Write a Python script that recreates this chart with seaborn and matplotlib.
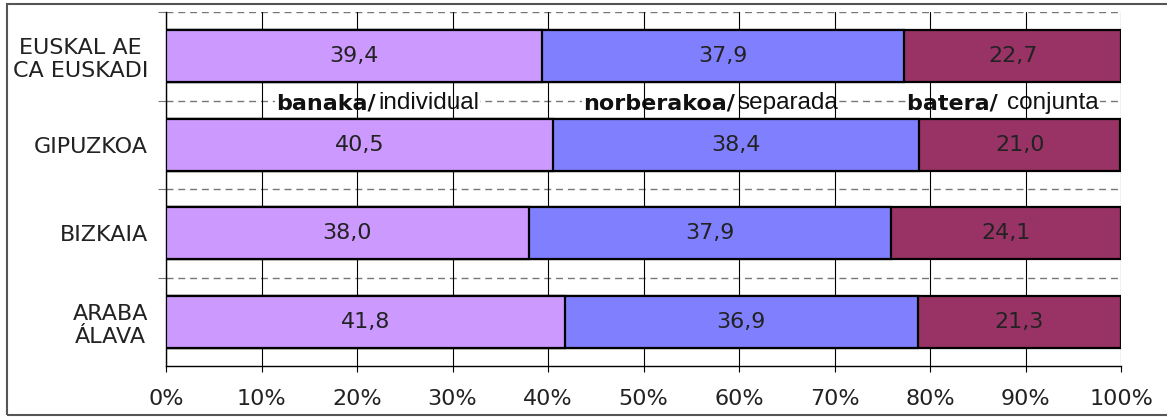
import matplotlib
matplotlib.use("Agg")
import matplotlib.pyplot as plt
import seaborn as sns
import pandas as pd
import numpy as np
from matplotlib.patches import Rectangle

# data
regions = ["EUSKAL AE\nCA EUSKADI", "GIPUZKOA", "BIZKAIA", "ARABA\nÁLAVA"]
banaka = [39.4, 40.5, 38.0, 41.8]
norberakoa = [37.9, 38.4, 37.9, 36.9]
batera = [22.7, 21.0, 24.1, 21.3]
series_bold = ["banaka/", "norberakoa/", "batera/ "]
series_plain = ["individual", "separada", "conjunta"]
series_colors = ["#CC99FF", "#8080FF", "#993366"]
legend_split = [22.0, 59.6, 87.9]

sns.set_theme(style="white")
plt.rcParams["font.family"] = ["DejaVu Sans"]

df = pd.DataFrame({"region": regions, "banaka": banaka,
                   "norberakoa": norberakoa, "batera": batera})
cols = ["banaka", "norberakoa", "batera"]
cum = df[cols].cumsum(axis=1)

fig = plt.figure(figsize=(11.67, 4.17), dpi=100)
ax = fig.add_axes([166 / 1167, 1 - 366 / 417, (1121 - 166) / 1167, (366 - 12) / 417])

# stacked bars: draw cumulative totals from the largest down
for col, color in zip(cols[::-1], series_colors[::-1]):
    sns.barplot(x=cum[col], y=df["region"], orient="h", color=color,
                edgecolor="black", linewidth=1.6, width=0.59,
                saturation=1, ax=ax, zorder=3)

# value labels
for i in range(len(regions)):
    left = 0
    for col in cols:
        v = df[col][i]
        ax.text(left + v / 2, i, f"{v:.1f}".replace(".", ","), ha="center",
                va="center", fontsize=16, color="#222222", zorder=4)
        left += v

ax.set_xlim(0, 100)
ax.set_ylim(3.5, -0.5)
ax.set_xticks(np.arange(0, 101, 10))
ax.set_xticklabels([f"{t}%" for t in range(0, 101, 10)], fontsize=16, color="#222222")
ax.set_yticks(range(len(regions)))
ax.set_yticklabels(regions, fontsize=16, multialignment="center", linespacing=1.2,
                   color="#222222")
ax.set_yticks([-0.5, 0.5, 1.5, 2.5], minor=True)
ax.set_xlabel("")
ax.set_ylabel("")

ax.set_axisbelow("line")
ax.grid(axis="x", color="black", linewidth=0.8, linestyle="-")
ax.grid(axis="y", which="major", visible=False)
for yb in [-0.5, 0.5, 1.5, 2.5]:
    ax.axhline(yb, color="#777777", linewidth=1.0, linestyle=(0, (5, 3.5)), zorder=0.6)
ax.tick_params(axis="x", which="major", length=4.3, width=0.8, color="black",
               direction="out", pad=12, bottom=True)
ax.tick_params(axis="y", which="major", length=0, pad=13)
ax.tick_params(axis="y", which="minor", length=5.8, width=0.8, color="#777777",
               direction="out", left=True)

for s in ["top", "right"]:
    ax.spines[s].set_visible(False)
ax.spines["left"].set_color("black")
ax.spines["bottom"].set_color("black")
ax.spines["left"].set_linewidth(1.0)
ax.spines["bottom"].set_linewidth(1.0)

# legend text sitting on the dashed line between the first two rows
for b, p, xs in zip(series_bold, series_plain, legend_split):
    ax.text(xs, 0.53, b, ha="right", va="center", fontsize=16, fontweight="bold",
            color="#111111", zorder=1,
            bbox=dict(facecolor="white", edgecolor="none", pad=1))
    ax.text(xs + 0.2, 0.53, p, ha="left", va="center", fontsize=17.5,
            family=["Liberation Sans Narrow", "Liberation Sans", "DejaVu Sans"],
            color="#111111", zorder=1,
            bbox=dict(facecolor="white", edgecolor="none", pad=1))

fig.patches.append(Rectangle((7 / 1167, 2 / 417), 1.0, 411 / 417, transform=fig.transFigure,
                             fill=False, edgecolor="#555555", linewidth=1.5))

fig.savefig("out.png", dpi=100)
